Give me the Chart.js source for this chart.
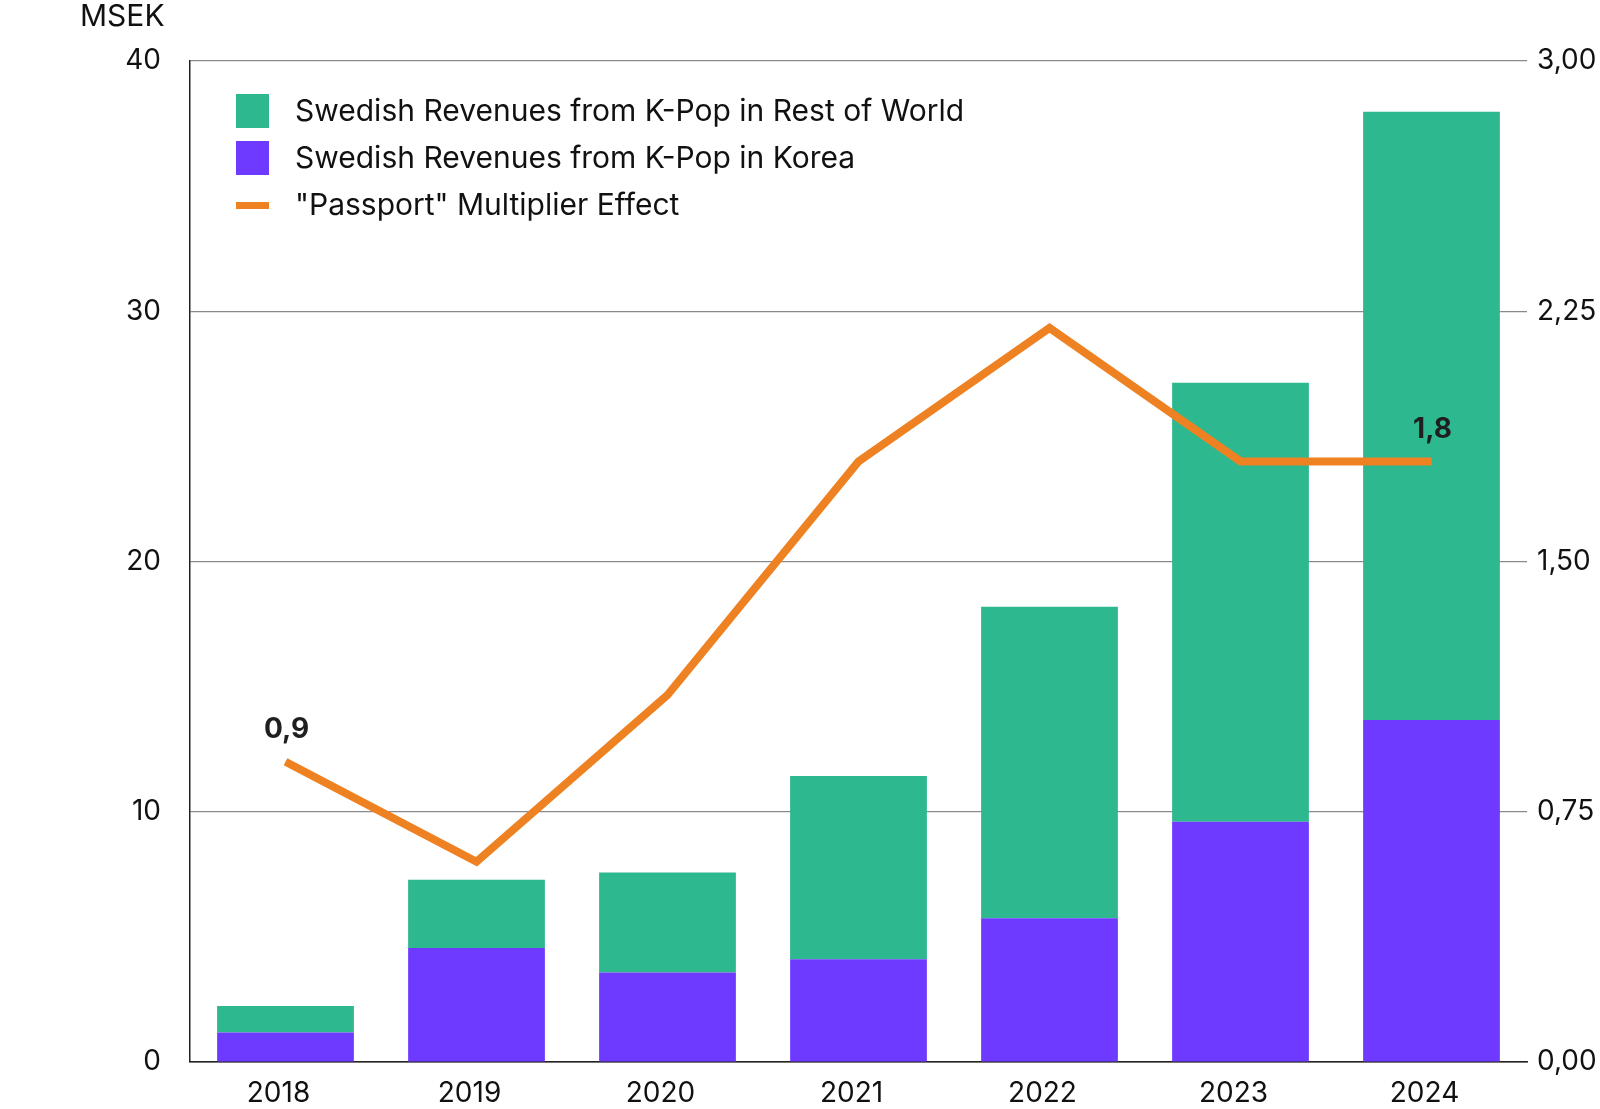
<!DOCTYPE html>
<html>
<head>
<meta charset="utf-8">
<script src="https://cdn.jsdelivr.net/npm/chart.js@4.4.0/dist/chart.umd.min.js"></script>
<style>
  html, body { margin: 0; padding: 0; background: #fff; }
  #wrap { width: 1600px; height: 1109px; position: relative; }
</style>
</head>
<body>
<div id="wrap"><canvas id="chart"></canvas></div>
<script>
// data
const years = ['2018', '2019', '2020', '2021', '2022', '2023', '2024']
const korea = [1.18, 4.56, 3.58, 4.11, 5.74, 9.60, 13.67]
const restOfWorld = [1.06, 2.72, 3.99, 7.32, 12.45, 17.54, 24.30]
const passport = [0.9, 0.6, 1.1, 1.8, 2.2, 1.8, 1.8]
const leftTicks = [0, 10, 20, 30, 40]
const rightTicks = [0, 0.75, 1.5, 2.25, 3]
const labelledPoints = [0, 6] // which points get a value label

const GREEN = '#2db88f'
const PURPLE = '#6e3aff'
const ORANGE = '#ee8222'
const FONT = 'Inter, "Noto Sans", sans-serif'

// legend drawn inside the plot area, top left
const legendItems = [
  { text: 'Swedish Revenues from K-Pop in Rest of World', color: GREEN, type: 'box' },
  { text: 'Swedish Revenues from K-Pop in Korea', color: PURPLE, type: 'box' },
  { text: '"Passport" Multiplier Effect', color: ORANGE, type: 'line' }
]

const extras = {
  id: 'extras',
  afterDraw(chart) {
    const ctx = chart.ctx
    const area = chart.chartArea
    ctx.save()
    // unit label
    ctx.fillStyle = '#111'
    ctx.font = '30px ' + FONT
    ctx.textAlign = 'left'
    ctx.textBaseline = 'middle'
    ctx.fillText('MSEK', 80, 17)

    // legend
    legendItems.forEach((it, i) => {
      const y = 111 + i * 47
      const x = area.left + 46
      ctx.fillStyle = it.color
      if (it.type === 'box') ctx.fillRect(x, y - 17, 33, 34)
      else ctx.fillRect(x, y - 3, 33, 7)
      ctx.fillStyle = '#111'
      ctx.font = '30px ' + FONT
      ctx.fillText(it.text, x + 59, y + 1)
    })

    // value labels on the line
    const meta = chart.getDatasetMeta(2)
    ctx.font = 'bold 28px ' + FONT
    ctx.fillStyle = '#1f1f1f'
    ctx.textAlign = 'center'
    labelledPoints.forEach(i => {
      const p = meta.data[i]
      const txt = passport[i].toFixed(1).replace('.', ',')
      ctx.fillText(txt, p.x + 1, p.y - 32)
    })
    ctx.restore()
  }
}

new Chart(document.getElementById('chart'), {
  type: 'bar',
  data: {
    labels: years,
    datasets: [
      {
        label: 'Swedish Revenues from K-Pop in Korea',
        data: korea,
        backgroundColor: PURPLE,
        yAxisID: 'y',
        order: 1,
        categoryPercentage: 1,
        barPercentage: 0.716
      },
      {
        label: 'Swedish Revenues from K-Pop in Rest of World',
        data: restOfWorld,
        backgroundColor: GREEN,
        yAxisID: 'y',
        order: 1,
        categoryPercentage: 1,
        barPercentage: 0.716
      },
      {
        type: 'line',
        label: '"Passport" Multiplier Effect',
        data: passport,
        borderColor: ORANGE,
        borderWidth: 8,
        borderCapStyle: 'butt',
        borderJoinStyle: 'miter',
        pointRadius: 0,
        tension: 0,
        yAxisID: 'y1',
        order: 0
      }
    ]
  },
  options: {
    responsive: true,
    maintainAspectRatio: false,
    animation: false,
    layout: { padding: { top: 61, left: 0, right: 0, bottom: 0 } },
    plugins: {
      legend: { display: false },
      tooltip: { enabled: false }
    },
    scales: {
      x: {
        stacked: true,
        grid: { display: false },
        border: { display: true, color: '#222', width: 1.5 },
        ticks: { color: '#111', font: { family: FONT, size: 28 }, padding: 7, labelOffset: -7 },
        afterFit(s) { s.height = 47 }
      },
      y: {
        stacked: true,
        position: 'left',
        min: 0,
        max: 40,
        afterBuildTicks(s) { s.ticks = leftTicks.map(v => ({ value: v })) },
        grid: {
          color: ctx => ctx.tick && ctx.tick.value === 0 ? '#222' : '#8a8a8a',
          lineWidth: 1.2,
          drawTicks: false
        },
        border: { display: true, color: '#222', width: 1.5 },
        ticks: { color: '#111', font: { family: FONT, size: 28 }, padding: 29 },
        afterFit(s) { s.width = 190 }
      },
      y1: {
        position: 'right',
        min: 0,
        max: 3,
        afterBuildTicks(s) { s.ticks = rightTicks.map(v => ({ value: v })) },
        grid: { display: false, drawTicks: false },
        border: { display: false },
        ticks: {
          color: '#111',
          font: { family: FONT, size: 28 },
          padding: 10,
          callback: v => Number(v).toFixed(2).replace('.', ',')
        },
        afterFit(s) { s.width = 73 }
      }
    }
  },
  plugins: [extras]
})
</script>
</body>
</html>
